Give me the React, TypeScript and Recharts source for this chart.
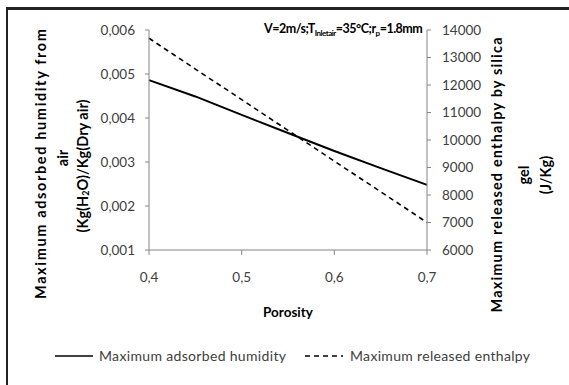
import { Legend, Line, LineChart, XAxis, YAxis } from "recharts";

const porosity = [0.4, 0.45, 0.5, 0.55, 0.6, 0.65, 0.7];
const adsorbedHumidity = [0.00486, 0.00449, 0.00407, 0.00366, 0.00325, 0.00286, 0.00248];
const releasedEnthalpy = [13700, 12580, 11470, 10350, 9230, 8120, 7000];

const xTicks = [0.4, 0.5, 0.6, 0.7];
const leftTicks = [0.001, 0.002, 0.003, 0.004, 0.005, 0.006];
const rightTicks = [6000, 7000, 8000, 9000, 10000, 11000, 12000, 13000, 14000];

const seriesNames = ["Maximum adsorbed humidity", "Maximum released enthalpy"];

const font = "Lato, 'Open Sans', sans-serif";
const axisGray = "#868686";
const tickStyle = { fill: "#404040", fontSize: 13.5, fontFamily: font };

const data = porosity.map((p, i) => ({
  porosity: p,
  humidity: adsorbedHumidity[i],
  enthalpy: releasedEnthalpy[i],
}));

function comma(v: number, digits: number) {
  return v.toFixed(digits).replace(".", ",");
}

function LegendContent() {
  return (
    <svg width={569} height={20} style={{ display: "block" }}>
      <line x1={55} x2={93} y1={10} y2={10} stroke="#000" strokeWidth={1.3} />
      <text x={99} y={15} fontSize={14} fontFamily={font} fill="#404040" textLength={187}>
        {seriesNames[0]}
      </text>
      <line x1={305} x2={343} y1={10} y2={10} stroke="#000" strokeWidth={1.3} strokeDasharray="5 4" />
      <text x={350} y={15} fontSize={14} fontFamily={font} fill="#404040" textLength={180}>
        {seriesNames[1]}
      </text>
    </svg>
  );
}

export default function App() {
  return (
    <div
      style={{
        position: "absolute",
        left: 0,
        top: 0,
        width: 569,
        height: 385,
        background: "#fff",
      }}
    >
      <div
        style={{
          position: "absolute",
          left: 6,
          top: 7,
          width: 570,
          height: 375,
          borderLeft: "2px solid #222",
          borderTop: "3px solid #222",
          borderBottom: "2px solid #888",
        }}
      />
      <LineChart
        width={569}
        height={385}
        data={data}
        margin={{ top: 30, right: 82, bottom: 0, left: 89 }}
        style={{ position: "absolute", left: 0, top: 0 }}
      >
        <XAxis
          dataKey="porosity"
          type="number"
          domain={[0.4, 0.7]}
          ticks={xTicks}
          tickFormatter={(v: number) => comma(v, 1)}
          stroke={axisGray}
          tick={tickStyle}
          tickSize={5}
          tickMargin={17}
          height={115}
          label={{
            value: "Porosity",
            position: "insideTop",
            offset: 57,
            fill: "#000",
            fontSize: 13.5,
            fontWeight: 700,
            fontFamily: font,
          }}
        />
        <YAxis
          yAxisId="left"
          domain={[0.001, 0.006]}
          ticks={leftTicks}
          tickFormatter={(v: number) => comma(v, 3)}
          stroke={axisGray}
          tick={tickStyle}
          tickSize={4}
          tickMargin={10}
          width={60}
        />
        <YAxis
          yAxisId="right"
          orientation="right"
          domain={[6000, 14000]}
          ticks={rightTicks}
          stroke={axisGray}
          tick={tickStyle}
          tickSize={4}
          tickMargin={11}
          width={60}
        />
        <Legend
          verticalAlign="bottom"
          content={<LegendContent />}
          wrapperStyle={{ left: 0, top: 346, width: 569 }}
        />
        <Line
          yAxisId="left"
          dataKey="humidity"
          name={seriesNames[0]}
          type="linear"
          stroke="#000"
          strokeWidth={2}
          dot={false}
          isAnimationActive={false}
        />
        <Line
          yAxisId="right"
          dataKey="enthalpy"
          name={seriesNames[1]}
          type="linear"
          stroke="#000"
          strokeWidth={1.6}
          strokeDasharray="5 4"
          dot={false}
          isAnimationActive={false}
        />
      </LineChart>
      <svg
        width={569}
        height={385}
        style={{ position: "absolute", left: 0, top: 0, pointerEvents: "none" }}
        fontFamily={font}
        fontWeight={700}
        fontSize={14.5}
        fill="#000"
      >
        <text x={264} y={33} fontSize={12.5} letterSpacing={-0.5}>
          V=2m/s;T
          <tspan fontSize={8} dy={3}>Inletair</tspan>
          <tspan dy={-3}>=35°C;r</tspan>
          <tspan fontSize={8} dy={3}>p</tspan>
          <tspan dy={-3}>=1.8mm</tspan>
        </text>
        <g textAnchor="middle" dominantBaseline="central">
          <text transform="translate(40,164) rotate(-90)" textLength={270}>
            Maximum adsorbed humidity from
          </text>
          <text transform="translate(62,158) rotate(-90)">air</text>
          <text transform="translate(82,166) rotate(-90)">
            (Kg(H<tspan fontSize={9} dy={3}>2</tspan>
            <tspan dy={-3}>O)/Kg(Dry air)</tspan>
          </text>
          <text transform="translate(496,175) rotate(-90)" textLength={275}>
            Maximum released enthalpy by silica
          </text>
          <text transform="translate(523,175) rotate(-90)">gel</text>
          <text transform="translate(545,175) rotate(-90)">(J/Kg)</text>
        </g>
      </svg>
    </div>
  );
}
